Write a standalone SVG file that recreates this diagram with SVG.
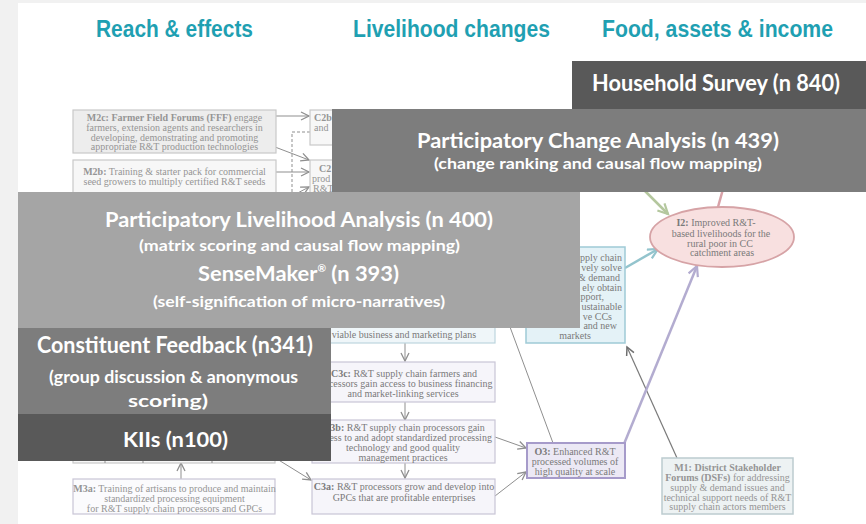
<svg xmlns="http://www.w3.org/2000/svg" width="866" height="524" viewBox="0 0 866 524">
<style>
.hdr{font-family:"Liberation Sans",Arial,sans-serif;font-weight:bold;font-size:23px;fill:#1fa0b2;text-anchor:middle}
.ov{font-family:Lato,"Open Sans",sans-serif;font-weight:bold;fill:#ffffff;text-anchor:middle}
.t1{font-size:21px}.t2{font-size:16px}.t3{font-size:17px}
.dt{font-family:"Liberation Serif","Times New Roman",serif;font-size:10px;fill:#959595;text-anchor:middle}
.dk{fill:#7a7a7a}
.st{text-anchor:start}.en{text-anchor:end}
.b{font-weight:bold}
.ln{stroke:#8f8f8f;stroke-width:1;fill:none}
.gbox{fill:#f7f7f7;stroke:#c9c9c9;stroke-width:1.2}
.cbox{fill:#f6f5fa;stroke:#c9c5d6;stroke-width:1.2}
</style>
<defs>
<marker id="ag" markerUnits="userSpaceOnUse" markerWidth="12" markerHeight="12" refX="9" refY="5" orient="auto"><path d="M1,1 L9,5 L1,9" fill="none" stroke="#8f8f8f" stroke-width="1.3"/></marker>
<marker id="agr" markerUnits="userSpaceOnUse" markerWidth="14" markerHeight="14" refX="11" refY="6" orient="auto"><path d="M1,1 L11,6 L1,11" fill="none" stroke="#b4c79e" stroke-width="2.2"/></marker>
<marker id="atl" markerUnits="userSpaceOnUse" markerWidth="14" markerHeight="14" refX="11" refY="6" orient="auto"><path d="M1,1 L11,6 L1,11" fill="none" stroke="#93c4cd" stroke-width="2.2"/></marker>
<marker id="apu" markerUnits="userSpaceOnUse" markerWidth="14" markerHeight="14" refX="11" refY="6" orient="auto"><path d="M1,1 L11,6 L1,11" fill="none" stroke="#b3acd0" stroke-width="2.2"/></marker>
<marker id="adk" markerUnits="userSpaceOnUse" markerWidth="12" markerHeight="12" refX="9" refY="5" orient="auto"><path d="M1,1 L9,5 L1,9" fill="none" stroke="#6f6f6f" stroke-width="1.5"/></marker>
</defs>
<rect x="0" y="0" width="866" height="524" fill="#f1f1f1"/>
<rect x="18" y="3" width="848" height="521" fill="#ffffff"/>

<g id="headers">
<text class="hdr" x="174.5" y="37" textLength="157" lengthAdjust="spacingAndGlyphs">Reach &amp; effects</text>
<text class="hdr" x="451.5" y="37" textLength="197" lengthAdjust="spacingAndGlyphs">Livelihood changes</text>
<text class="hdr" x="717.5" y="37" textLength="231" lengthAdjust="spacingAndGlyphs">Food, assets &amp; income</text>
</g>

<g id="connectors">
<line class="ln" x1="276" y1="116" x2="309" y2="116" marker-end="url(#ag)"/>
<line class="ln" x1="275" y1="147" x2="309" y2="160" marker-end="url(#ag)"/>
<line class="ln" x1="276" y1="172" x2="309" y2="172" marker-end="url(#ag)"/>
<path class="ln" d="M310,132 H292 V200" stroke-dasharray="3,2"/>
<line class="ln" x1="292" y1="196" x2="309" y2="187" marker-end="url(#ag)"/>
<line class="ln" x1="405" y1="343" x2="405" y2="361" marker-end="url(#ag)"/>
<line class="ln" x1="405" y1="402" x2="405" y2="420" marker-end="url(#ag)"/>
<line class="ln" x1="405" y1="463" x2="405" y2="478" marker-end="url(#ag)"/>
<line class="ln" x1="495" y1="437" x2="526" y2="448" marker-end="url(#ag)"/>
<line class="ln" x1="495" y1="496" x2="526" y2="472" marker-end="url(#ag)"/>
<line class="ln" x1="500" y1="300" x2="553" y2="443" stroke="#7a7a7a"/>
<line class="ln" x1="277" y1="459" x2="311" y2="480" marker-end="url(#ag)"/>
<line class="ln" x1="181" y1="479" x2="181" y2="463" marker-end="url(#ag)"/>
<line x1="677" y1="458" x2="627" y2="347" stroke="#7a7a7a" stroke-width="1.2" marker-end="url(#adk)"/>
<line x1="636" y1="182" x2="668" y2="214" stroke="#b4c79e" stroke-width="2.5" marker-end="url(#agr)"/>
<line x1="718" y1="207" x2="725" y2="182" stroke="#d8a2a8" stroke-width="2.5"/>
<line x1="625" y1="268" x2="658" y2="249" stroke="#93c4cd" stroke-width="2.5" marker-end="url(#atl)"/>
<line x1="624" y1="444" x2="697" y2="266" stroke="#b3acd0" stroke-width="2.5" marker-end="url(#apu)"/>
</g>

<g id="M2c">
<rect x="73" y="110" width="203" height="43" fill="#ededed" stroke="#c9c9c9" stroke-width="1.2"/>
<text class="dt" x="174.5" y="121"><tspan class="b">M2c: Farmer Field Forums (FFF)</tspan> engage</text>
<text class="dt" x="174.5" y="131">farmers, extension agents and researchers in</text>
<text class="dt" x="174.5" y="140.5">developing, demonstrating and promoting</text>
<text class="dt" x="174.5" y="150">appropriate R&amp;T production technologies</text>
</g>
<g id="M2b">
<rect class="gbox" x="73" y="160" width="203" height="40"/>
<text class="dt" x="174.5" y="175"><tspan class="b">M2b:</tspan> Training &amp; starter pack for commercial</text>
<text class="dt" x="174.5" y="185">seed growers to multiply certified R&amp;T seeds</text>
</g>
<g id="C2b">
<rect class="gbox" x="310" y="110" width="60" height="35"/>
<text class="dt st b" x="314" y="121">C2b:</text>
<text class="dt st" x="314" y="131">and</text>
</g>
<g id="C2a">
<rect class="gbox" x="310" y="160" width="60" height="40"/>
<text class="dt st b" x="319" y="172">C2</text>
<text class="dt st" x="312" y="182">prod</text>
<text class="dt st" x="313" y="192">R&amp;T</text>
</g>

<g id="C4">
<rect x="526" y="247" width="99" height="96" fill="#e4f2f7" stroke="#9fcad6" stroke-width="1.5"/>
<text class="dt dk en" x="622" y="261">pply chain</text>
<text class="dt dk en" x="622" y="271">vely solve</text>
<text class="dt dk en" x="620" y="280.5">&amp; demand</text>
<text class="dt dk en" x="622" y="290.5">ely obtain</text>
<text class="dt dk en" x="604" y="300">upport,</text>
<text class="dt dk en" x="622" y="310">ustainable</text>
<text class="dt dk en" x="612" y="319.5">ve CCs</text>
<text class="dt dk en" x="617" y="329">and new</text>
<text class="dt dk" x="575" y="338.5">markets</text>
</g>

<g id="I2">
<ellipse cx="722" cy="237" rx="72" ry="30" fill="#f8e0e0" stroke="#d6a3a6" stroke-width="1.8"/>
<text class="dt dk" x="716" y="226"><tspan class="b">I2:</tspan> Improved R&amp;T-</text>
<text class="dt dk" x="721" y="236.5">based livelihoods for the</text>
<text class="dt dk" x="720" y="246.5">rural poor in CC</text>
<text class="dt dk" x="722" y="256">catchment areas</text>
</g>

<g id="C3d">
<rect x="312" y="300" width="183" height="43" fill="#eff6f9" stroke="#bcd5de" stroke-width="1.2"/>
<text class="dt dk" x="404" y="338">viable business and marketing plans</text>
</g>
<g id="C3c">
<rect class="cbox" x="312" y="362" width="183" height="40"/>
<text class="dt dk" x="404" y="376.5"><tspan class="b">C3c:</tspan> R&amp;T supply chain farmers and</text>
<text class="dt dk" x="404" y="386.5">processors gain access to business financing</text>
<text class="dt dk" x="403" y="396.5">and market-linking services</text>
</g>
<g id="C3b">
<rect class="cbox" x="312" y="420" width="183" height="43"/>
<text class="dt dk" x="404" y="430.5"><tspan class="b">C3b:</tspan> R&amp;T supply chain processors gain</text>
<text class="dt dk" x="404" y="440.5">access to and adopt standardized processing</text>
<text class="dt dk" x="403" y="450.5">technology and good quality</text>
<text class="dt dk" x="403" y="460.5">management practices</text>
</g>
<g id="C3a">
<rect class="cbox" x="312" y="479" width="183" height="35"/>
<text class="dt dk" x="404" y="490"><tspan class="b">C3a:</tspan> R&amp;T processors grow and develop into</text>
<text class="dt dk" x="404" y="500.5">GPCs that are profitable enterprises</text>
</g>
<g id="O3">
<rect x="527" y="443" width="98" height="35" fill="#ece9f5" stroke="#a69bca" stroke-width="2"/>
<text class="dt dk" x="575" y="455"><tspan class="b">O3:</tspan> Enhanced R&amp;T</text>
<text class="dt dk" x="575" y="465">processed volumes of</text>
<text class="dt dk" x="575" y="474.5">high quality at scale</text>
</g>
<g id="M1">
<rect x="662" y="458" width="131" height="56" fill="#edf2f3" stroke="#bccbcf" stroke-width="1.5"/>
<text class="dt" x="727.5" y="471"><tspan class="b">M1: District Stakeholder</tspan></text>
<text class="dt" x="727.5" y="481"><tspan class="b">Forums (DSFs)</tspan> for addressing</text>
<text class="dt" x="727.5" y="490.5">supply &amp; demand issues and</text>
<text class="dt" x="727.5" y="500.5">technical support needs of R&amp;T</text>
<text class="dt" x="727.5" y="510">supply chain actors members</text>
</g>
<g id="M3row">
<rect class="gbox" x="73" y="440" width="202" height="23"/>
<path class="ln" d="M105,440 V463 M143,440 V463 M212,440 V463" stroke="#c9c9c9"/>
</g>
<g id="M3a">
<rect x="73" y="479" width="202" height="35" fill="#fbfbfd" stroke="#c9c5d6" stroke-width="1.2"/>
<text class="dt" x="174.5" y="492"><tspan class="b">M3a:</tspan> Training of artisans to produce and maintain</text>
<text class="dt" x="174.5" y="502">standardized processing equipment</text>
<text class="dt" x="174.5" y="512">for R&amp;T supply chain processors and GPCs</text>
</g>

<g id="household-survey">
<rect x="572" y="61" width="294" height="48" fill="#595959"/>
<text class="ov" x="716" y="91" font-size="22" textLength="248" lengthAdjust="spacingAndGlyphs">Household Survey (n 840)</text>
</g>
<g id="participatory-change">
<rect x="332" y="109" width="534" height="83" fill="#7d7d7d"/>
<text class="ov t1" x="598" y="148" textLength="362" lengthAdjust="spacingAndGlyphs">Participatory Change Analysis (n 439)</text>
<text class="ov t2" x="598" y="169" textLength="328" lengthAdjust="spacingAndGlyphs">(change ranking and causal flow mapping)</text>
</g>
<g id="participatory-livelihood">
<rect x="18" y="192" width="562" height="136" fill="#a5a5a5"/>
<text class="ov t1" x="299" y="227" textLength="388" lengthAdjust="spacingAndGlyphs">Participatory Livelihood Analysis (n 400)</text>
<text class="ov t2" x="299.5" y="251" textLength="321" lengthAdjust="spacingAndGlyphs">(matrix scoring and causal flow mapping)</text>
<text class="ov t1" x="298.5" y="281" textLength="201" lengthAdjust="spacingAndGlyphs">SenseMaker<tspan font-size="10" dy="-9">®</tspan><tspan dy="9"> (n 393)</tspan></text>
<text class="ov t2" x="299" y="307" textLength="292" lengthAdjust="spacingAndGlyphs">(self-signification of micro-narratives)</text>
</g>
<g id="constituent-feedback">
<rect x="18" y="328" width="313" height="86" fill="#7d7d7d"/>
<text class="ov" x="175" y="353" font-size="22" textLength="276" lengthAdjust="spacingAndGlyphs">Constituent Feedback (n341)</text>
<text class="ov t3" x="173.5" y="383" textLength="249" lengthAdjust="spacingAndGlyphs">(group discussion &amp; anonymous</text>
<text class="ov t3" x="168" y="407" textLength="80" lengthAdjust="spacingAndGlyphs">scoring)</text>
</g>
<g id="kiis">
<rect x="18" y="414" width="313" height="47" fill="#595959"/>
<text class="ov t1" x="175.5" y="447" textLength="105" lengthAdjust="spacingAndGlyphs">KIIs (n100)</text>
</g>
</svg>
